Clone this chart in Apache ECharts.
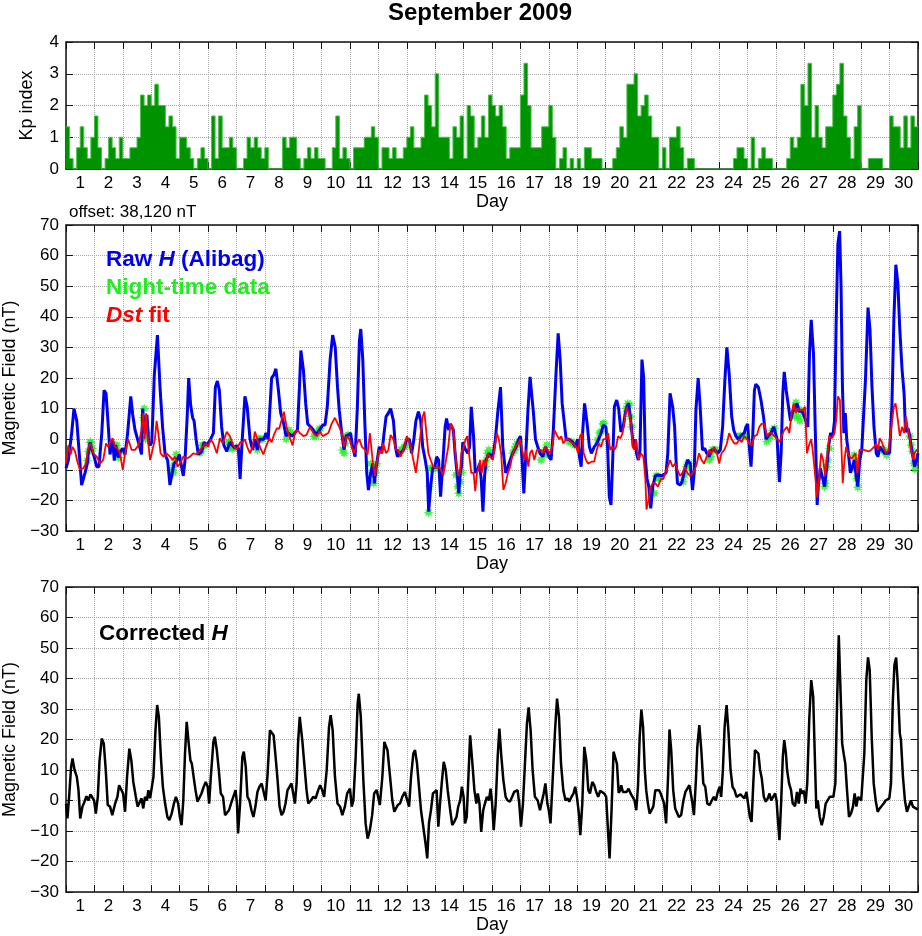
<!DOCTYPE html>
<html><head><meta charset="utf-8">
<script src="https://cdn.jsdelivr.net/npm/echarts/dist/echarts.min.js"></script>
<style>html,body{margin:0;padding:0;background:#fff}#c{width:922px;height:936px}</style>
</head><body><div id="c"></div><script>
const dayLabels = ['1','2','3','4','5','6','7','8','9','10','11','12','13','14','15','16','17','18','19','20','21','22','23','24','25','26','27','28','29','30'];

// Kp index, 8 three-hour values per day (days 1..30)
const kpIndex = [
1.33,0.33,0,0.67,1.33,0.67,0.33,1.0,
1.67,0.67,0,0.33,1.0,0.67,0.33,1.0,
0.33,0.33,0.67,0.67,1.0,2.33,2.0,2.33,
2.0,2.67,2.0,2.0,1.33,1.67,1.33,0.33,
1.0,1.0,0.67,0.33,0,0.33,0.67,0.33,
0,1.67,0.33,1.67,0.67,0.67,1.0,0.67,
0,0,0.33,1.0,0.67,1.0,0.67,0.33,
0.67,0,0,0,0,1.0,0.67,1.0,
1.0,0.33,0,0.33,0.67,0.33,0.67,0.33,
0.33,0,0,0.67,1.67,0.33,0.67,0.33,
0,0.67,0.67,0.67,1.0,1.0,1.33,1.0,
0,0.67,0.67,0.33,0.67,0.33,0.33,0.67,
1.0,1.33,0.67,0.67,1.0,2.33,2.0,1.33,
3.0,1.0,1.0,1.0,0.33,1.33,1.0,1.67,
0.33,2.0,1.67,0.67,1.0,1.67,1.0,2.33,
2.0,1.67,2.0,1.33,0.33,0.67,0.67,0.67,
2.33,3.33,2.0,0.67,0.67,0.67,1.33,1.33,
2.0,1.0,0,0.33,0.67,0,0.33,0,
0.33,0,0.67,0.67,0.33,0.33,0.33,0,
0,0,0.33,0.67,1.33,1.0,2.67,2.67,
3.0,1.67,2.0,2.33,1.67,1.0,1.0,0,
0.67,0,1.0,1.0,1.33,0.67,0,0.33,
0.33,0,0,0,0,0,0,0,
0,0,0,0,0.33,0.67,0.67,0.33,
0,1.0,0,0.33,0.67,0.33,0.33,0,
0,0,0,0.33,1.0,0.67,1.0,2.67,
2.0,3.33,1.0,2.0,1.0,0.67,1.33,1.33,
2.33,2.67,3.33,1.67,1.0,0.33,1.33,2.0,
0,0,0.33,0.33,0.33,0.33,0,0,
1.67,1.33,1.33,0.67,1.67,0.67,1.67,1.33
];

// Raw H (Alibag), [day offset, nT]
const rawH = [[0,-9.5],[0.08,-7],[0.2,2],[0.28,10],[0.38,6],[0.47,-5],[0.55,-15],[0.67,-11],[0.75,-8],[0.79,-4],[0.85,-1],[0.9,-3],[1,-6],[1.08,-9],[1.16,-9],[1.26,2],[1.34,16],[1.41,15],[1.49,4],[1.55,-5],[1.64,0],[1.7,-7],[1.75,-2],[1.84,-6],[1.92,-4],[2,-3],[2.08,-5],[2.17,2],[2.28,14],[2.35,8],[2.43,3],[2.49,1],[2.58,-2],[2.66,-5],[2.7,10],[2.76,2],[2.81,6],[2.85,8],[2.91,-1],[2.96,-2],[3.02,-1],[3.05,6],[3.11,21],[3.22,34],[3.31,17],[3.4,4],[3.49,-5],[3.58,-7],[3.66,-15],[3.73,-15],[3.8,-8],[3.9,-7],[3.99,-5],[4.07,-9],[4.13,-12],[4.19,-7],[4.27,8],[4.32,20],[4.39,11],[4.46,7],[4.51,6],[4.58,0],[4.66,-5],[4.78,-4],[4.86,-1],[4.95,-2],[5.09,0],[5.19,2],[5.26,17],[5.33,19],[5.4,16],[5.48,4],[5.56,-2],[5.66,-4],[5.77,-1],[5.86,-2],[5.95,-3],[6.01,-2],[6.07,-3],[6.13,-13],[6.19,-2.5],[6.3,14],[6.38,10.6],[6.48,0],[6.57,-3.5],[6.65,0],[6.74,-3.5],[6.81,0],[6.97,0],[7.04,2],[7.12,0],[7.24,20],[7.32,21],[7.39,23],[7.48,16],[7.56,8.5],[7.65,5.7],[7.75,1],[7.83,2],[7.95,1],[8.06,2],[8.15,3],[8.22,17],[8.27,29],[8.36,22.6],[8.44,11.7],[8.51,5],[8.62,4],[8.71,3],[8.8,1.4],[8.92,3],[9.04,4.6],[9.12,4.6],[9.2,10.6],[9.3,26],[9.39,34],[9.48,30],[9.56,17],[9.62,9.5],[9.71,2],[9.79,-3.5],[9.86,1],[9.94,1.4],[10.02,2],[10.09,-2.5],[10.18,-5.7],[10.26,10.6],[10.33,32],[10.38,36],[10.45,26],[10.52,6],[10.59,-11],[10.65,-16.6],[10.73,-11],[10.8,-8],[10.86,-14.4],[10.94,-8],[11.03,-2.5],[11.12,-4.6],[11.2,2],[11.27,7.4],[11.35,8.5],[11.43,10],[11.53,6],[11.6,-2.5],[11.67,-5.7],[11.77,-4.6],[11.88,-3.5],[12,0],[12.09,0],[12.17,-4.6],[12.25,0],[12.32,6],[12.41,9],[12.49,6],[12.56,-2.5],[12.65,-6.8],[12.72,-11],[12.77,-23.7],[12.84,-15.5],[12.91,-9.5],[12.99,-9],[13.05,-5.7],[13.12,-6.8],[13.19,-18.8],[13.26,-9],[13.35,4],[13.4,6.8],[13.47,3],[13.54,5],[13.64,3],[13.7,-4.6],[13.78,-12],[13.83,-17.7],[13.88,-11],[13.93,-9],[13.97,-1],[14.07,-3.5],[14.15,-4.6],[14.21,-2.5],[14.27,10.6],[14.3,11],[14.35,1],[14.41,-11],[14.5,-10],[14.56,-8],[14.62,-13],[14.68,-23.7],[14.74,-12],[14.79,-6.8],[14.89,-4.6],[14.97,-6],[15.05,-4.6],[15.12,0],[15.2,8.5],[15.3,17],[15.38,-2.5],[15.48,-11],[15.56,-9],[15.64,-6.8],[15.73,-4.6],[15.85,-2.5],[15.94,0],[16,1],[16.06,-6.8],[16.12,-17.7],[16.18,-6.8],[16.26,8.5],[16.34,20.4],[16.38,21],[16.46,8.5],[16.53,0],[16.61,-2.5],[16.69,-4.6],[16.79,-5.7],[16.88,-2.5],[16.93,-3.5],[17,-5.7],[17.08,-6.8],[17.16,3],[17.26,22.6],[17.33,34.6],[17.4,26],[17.47,11.7],[17.55,5],[17.61,0],[17.7,0],[17.84,-1],[17.94,-2.5],[18.02,0],[18.08,-5.7],[18.14,-9],[18.19,2],[18.26,11.7],[18.35,5],[18.43,-2.5],[18.5,-4.6],[18.6,-2.5],[18.69,-1.4],[18.75,-1],[18.84,2],[18.92,4.6],[19.01,4],[19.07,-2.5],[19.13,-18.8],[19.19,-21.5],[19.25,-6.8],[19.31,10.6],[19.39,12.8],[19.46,10],[19.54,2.4],[19.62,4],[19.69,8.5],[19.75,10.6],[19.81,11.7],[19.87,7.4],[19.93,2],[19.98,-2.5],[20.05,0],[20.09,-4.6],[20.15,-6.8],[20.21,-3.5],[20.28,26],[20.34,20],[20.4,-6.8],[20.46,-13],[20.52,-15.5],[20.59,-22.6],[20.66,-15.5],[20.75,-12],[20.84,-11.7],[20.95,-12],[21.03,-11.7],[21.13,-11],[21.19,-4.6],[21.27,15],[21.36,10.6],[21.43,4],[21.48,-6.8],[21.53,-14.4],[21.62,-15],[21.69,-14],[21.76,-11],[21.88,-6.8],[21.98,-8],[22.06,-16.6],[22.12,-11],[22.18,9.5],[22.26,20],[22.33,10.6],[22.41,-3.5],[22.49,-3],[22.56,-4.6],[22.65,-5.7],[22.73,-3.5],[22.85,-3.5],[22.94,-4.6],[23.04,-3.5],[23.12,4],[23.2,19.3],[23.27,30],[23.35,21.5],[23.44,7.4],[23.51,3],[23.59,1],[23.67,0],[23.79,1.4],[23.88,2],[23.94,4],[24,5],[24.06,-2.5],[24.12,-9],[24.18,1],[24.24,16],[24.29,18],[24.38,17],[24.47,12.8],[24.56,7.4],[24.65,0],[24.73,1],[24.82,2],[24.92,4],[24.96,4.6],[25.04,0],[25.12,-14],[25.18,-4.6],[25.24,15],[25.29,22],[25.36,16],[25.44,10.6],[25.51,6],[25.59,9],[25.67,10],[25.74,11.7],[25.82,9],[25.91,9.5],[25.98,10],[26.06,5.7],[26.12,4],[26.18,28],[26.24,39],[26.32,28],[26.38,4],[26.45,-21.5],[26.49,-15.5],[26.56,-9.5],[26.65,-13],[26.71,-15.5],[26.79,-9],[26.85,-2.5],[26.92,2],[27,1],[27.06,6],[27.12,39],[27.18,64],[27.24,68],[27.29,50],[27.34,17],[27.39,2],[27.44,8.5],[27.49,0],[27.55,-4.6],[27.62,-11],[27.69,-9],[27.76,-6.8],[27.82,-12],[27.88,-15.5],[27.95,-6.8],[28.02,-3.5],[28.09,-3.5],[28.15,19.3],[28.24,43],[28.31,35.7],[28.38,17],[28.45,4],[28.53,-4.6],[28.59,-5.7],[28.65,-2.5],[28.73,-3.5],[28.82,-4.6],[28.92,-4.6],[29,-4.6],[29.08,10.6],[29.15,39],[29.22,57],[29.29,51],[29.36,35.7],[29.44,22.6],[29.51,15],[29.56,2.4],[29.65,3.5],[29.71,1],[29.76,-2.5],[29.82,-5.7],[29.88,-9],[29.95,-6.8],[30,-4.6]];

// Night-time data points, [day offset, nT]
const nightTime = [[0.75,-7],[0.79,-4],[0.85,-1],[0.87,-1],[0.93,-3],[1.73,-2],[1.79,-2],[1.82,-4.6],[1.86,-6],[1.9,-4],[2.72,7],[2.75,10],[2.78,4],[2.8,0],[2.85,2],[3.76,-10],[3.78,-11],[3.8,-8.5],[3.84,-7],[3.88,-5],[4.72,-4.5],[4.76,-4],[4.8,-2],[4.84,-2],[4.88,-2],[5.72,-1],[5.76,-1],[5.8,-2],[5.84,-3],[5.88,-3],[6.74,-3.5],[6.78,0],[6.82,0],[6.86,0],[6.9,0],[7.75,0],[7.79,2],[7.85,3],[7.89,2],[8.73,1],[8.8,1],[8.86,2],[8.91,3],[8.94,3.5],[9.74,-3.5],[9.79,-4.6],[9.84,-1.4],[9.88,1],[9.93,1.4],[10.73,-8],[10.8,-11],[10.84,-14.4],[10.89,-11],[10.94,-8],[11.74,-4.6],[11.8,-3.5],[11.85,-3.3],[11.91,-2.6],[11.96,-2],[12.77,-24],[12.8,-15.5],[12.85,-9.5],[12.92,-9.5],[12.99,-9.5],[13.73,-11.7],[13.79,-15.5],[13.83,-17.7],[13.88,-13.9],[13.93,-11],[14.77,-9],[14.8,-6.8],[14.84,-4.6],[14.89,-3.5],[14.94,-4.6],[15.73,-4.6],[15.79,-3.5],[15.83,-2.5],[15.88,-1.4],[15.95,-0.8],[16.73,-6.8],[16.79,-4.6],[16.84,-5.2],[16.88,-3.5],[16.93,-1.9],[17.71,-0.8],[17.79,-0.8],[17.85,-1.4],[17.91,-1.9],[17.96,-1.4],[18.72,-0.3],[18.78,2],[18.84,2.5],[18.9,5],[18.94,5.2],[19.72,10],[19.78,11.7],[19.84,11.2],[19.87,7.4],[19.92,4],[20.72,-17.7],[20.78,-12],[20.84,-12],[20.87,-12.8],[20.91,-12.8],[21.73,-13.9],[21.78,-11.7],[21.85,-9],[21.89,-8.4],[21.95,-7.9],[22.65,-6.8],[22.71,-5.7],[22.76,-3.5],[22.82,-3.5],[22.88,-3.5],[23.67,1],[23.74,1],[23.8,1],[23.86,1],[23.92,1],[24.68,-0.8],[24.73,0.3],[24.8,1],[24.87,2.8],[24.94,3.5],[25.65,7.4],[25.7,12],[25.74,10],[25.79,7.4],[25.84,6],[25.88,9.5],[26.71,-15.5],[26.74,-14.4],[26.79,-9],[26.82,-6.8],[26.88,-3],[27.71,-9.5],[27.75,-5.2],[27.8,-6.8],[27.84,-12.8],[27.88,-15.7],[28.71,-3.5],[28.75,-3],[28.8,-3.5],[28.85,-4],[28.89,-5.2],[29.71,1],[29.76,-1.9],[29.79,-3.9],[29.85,-7.9],[29.89,-9.8]];

// Dst fit, [day offset, nT]
const dstFit = [[0,-8],[0.08,-2],[0.16,-5],[0.23,-2.5],[0.32,-4],[0.4,-7.3],[0.49,-10],[0.61,-9.5],[0.7,-8],[0.79,-2.5],[0.87,-1.4],[0.96,-4.6],[1.08,-5.7],[1.2,-8],[1.31,-6.8],[1.41,-1.4],[1.49,-2.5],[1.55,-1],[1.64,0.3],[1.73,-2.5],[1.81,-3],[1.9,-4.6],[2,-10],[2.08,-4.6],[2.19,0],[2.31,-3.5],[2.43,-3.5],[2.55,-2],[2.66,3],[2.72,8.5],[2.77,0],[2.82,8.5],[2.86,2],[2.96,-6.8],[3.02,-4.6],[3.13,0],[3.19,6],[3.25,2],[3.33,-4.6],[3.43,-5.7],[3.54,-4.6],[3.66,-5.7],[3.76,-6.8],[3.84,-5.7],[3.93,-9],[4.01,-8],[4.13,-5.7],[4.25,-6.3],[4.37,-5.7],[4.48,-4.6],[4.6,-5],[4.72,-3.5],[4.81,-2.5],[4.93,-1.4],[5.01,-2.5],[5.09,0],[5.19,-1.4],[5.31,-4.6],[5.42,0.3],[5.52,-1.4],[5.66,2.4],[5.77,1],[5.89,-2],[6.01,-3.5],[6.13,-1],[6.22,-1],[6.3,0],[6.38,-2.5],[6.48,-4.6],[6.57,-2.5],[6.65,2.5],[6.74,0],[6.83,-2.5],[6.95,-5],[7.04,-2.5],[7.16,0.3],[7.24,-1],[7.32,1.4],[7.42,3.5],[7.51,3.5],[7.59,6.3],[7.67,9],[7.77,4],[7.86,1],[7.98,-2],[8.06,2],[8.15,3],[8.24,2],[8.36,1],[8.47,1.4],[8.59,4],[8.71,2],[8.83,1],[8.94,2.5],[9.04,1],[9.12,1.4],[9.24,2],[9.35,5],[9.47,7],[9.53,7],[9.62,4],[9.71,2],[9.79,-2.5],[9.88,1],[9.98,0],[10.06,-2.5],[10.14,-4.6],[10.24,-1.4],[10.33,0],[10.42,-2.5],[10.53,-3.5],[10.62,-5],[10.7,2],[10.76,2.5],[10.82,-9],[10.88,-12],[10.94,-8],[11.03,-3.5],[11.12,-4.6],[11.17,-1.4],[11.27,-4.6],[11.35,-3.5],[11.43,1.4],[11.53,0],[11.62,-3.5],[11.7,-3.5],[11.78,-5.7],[11.88,-3.5],[12,1],[12.05,0],[12.14,-2.5],[12.23,-6.8],[12.32,-11],[12.41,-4.6],[12.49,2],[12.56,7.4],[12.62,9],[12.7,1],[12.76,-4.6],[12.84,-6.8],[12.93,-9],[13.03,-9.5],[13.11,-9],[13.2,-10],[13.28,-12],[13.38,-6.8],[13.46,-2.5],[13.54,5],[13.64,3.5],[13.73,-6.8],[13.81,-12],[13.87,-11],[13.92,-4.6],[14,-2.5],[14.07,0],[14.13,1],[14.19,-4.6],[14.27,-11],[14.35,-11],[14.41,-17],[14.47,-11],[14.54,-9],[14.58,-6.8],[14.64,-11],[14.7,-6.8],[14.77,-9],[14.85,-4.6],[14.93,-5.7],[15.03,-6.8],[15.1,-2.5],[15.17,2],[15.24,0],[15.32,-4.6],[15.4,-16.6],[15.48,-14.4],[15.56,-11],[15.64,-9],[15.73,-4.6],[15.83,-2.5],[15.91,-1.4],[15.99,0],[16.06,-3.5],[16.14,-6.8],[16.2,-3.5],[16.28,-9],[16.34,-4.6],[16.41,-3.5],[16.49,-6.8],[16.58,-3.5],[16.73,-3.5],[16.81,-4.6],[16.88,-2.5],[16.96,-3.5],[17.04,-4.6],[17.12,-2.5],[17.2,3],[17.28,1.4],[17.37,0],[17.44,1],[17.51,-1.4],[17.61,0],[17.7,0],[17.78,-1],[17.86,-1.4],[17.96,-2.5],[18.03,-4.6],[18.1,1],[18.17,2],[18.23,-4.6],[18.31,-6.8],[18.38,-8],[18.45,-8],[18.52,-7.3],[18.6,-7.3],[18.69,-3.5],[18.76,-1.4],[18.84,-2.5],[18.92,0],[19.01,0],[19.09,2],[19.16,-3.5],[19.23,-2.5],[19.31,-3.5],[19.37,-2.5],[19.44,1],[19.52,0.3],[19.6,2],[19.67,6.3],[19.74,10.6],[19.81,8.5],[19.89,6.3],[19.95,-2.5],[20.01,-3.5],[20.07,0],[20.16,-6.8],[20.24,-4.6],[20.33,-5.7],[20.4,-13],[20.44,-23],[20.51,-20],[20.59,-15.5],[20.66,-14.4],[20.75,-14.4],[20.84,-15.5],[20.95,-13],[21.03,-13],[21.1,-11],[21.19,-9],[21.27,-6.8],[21.36,-9],[21.45,-8],[21.53,-10],[21.62,-12],[21.71,-11],[21.79,-9],[21.88,-11],[21.98,-12],[22.06,-11],[22.14,-10],[22.21,-8],[22.29,-4.6],[22.38,-6.8],[22.47,-8],[22.56,-5.7],[22.65,-3.5],[22.73,-4.6],[22.82,-2.5],[22.92,-4.6],[23,-8],[23.08,-4.6],[23.18,-3.5],[23.27,-1.4],[23.35,2],[23.44,0],[23.53,-1.4],[23.62,-1.4],[23.71,0],[23.79,-1],[23.88,1],[23.98,0],[24.06,-1.4],[24.14,-2],[24.24,1],[24.33,1.4],[24.41,4],[24.49,5],[24.59,5],[24.68,1],[24.76,2],[24.85,2],[24.94,1],[25.04,0],[25.12,-1],[25.2,1],[25.29,3],[25.39,4],[25.47,2],[25.55,8.5],[25.62,11.7],[25.71,8.5],[25.76,10],[25.86,9.5],[25.94,9.5],[26.02,10.6],[26.09,-4.6],[26.18,-1.4],[26.24,0],[26.29,-3.5],[26.35,-9],[26.45,-19],[26.53,-11],[26.59,-4.6],[26.66,-6.8],[26.73,-12],[26.8,-5.7],[26.88,1],[26.96,0.3],[27.06,2],[27.12,6.3],[27.18,14],[27.25,12.8],[27.29,1],[27.35,-14.4],[27.41,-6.8],[27.47,-2.5],[27.53,-4.6],[27.59,-5.7],[27.67,-6.3],[27.74,-6.8],[27.8,-4.6],[27.86,-11],[27.94,-3.5],[28.09,-3.5],[28.26,-4],[28.35,-3.5],[28.45,-2.5],[28.53,-1.4],[28.59,-3.5],[28.65,0.3],[28.73,-1],[28.8,-3],[28.88,-4.6],[28.96,-3.5],[29.06,4],[29.15,10.6],[29.21,11.7],[29.29,6.3],[29.36,1],[29.44,4],[29.51,2],[29.58,7.4],[29.65,3],[29.72,0],[29.76,-3.5],[29.84,-6.8],[29.88,-4.6],[29.95,-3.5],[30,-3.5]];

// Corrected H, [day offset, nT]
const correctedH = [[0,-1],[0.05,-5.9],[0.11,1.2],[0.18,11],[0.23,13.8],[0.3,10],[0.38,7.8],[0.44,3.4],[0.5,-5.9],[0.58,-2],[0.65,-0.4],[0.72,1.4],[0.79,0],[0.86,2],[0.93,2.5],[0.99,0],[1.05,-4.3],[1.12,1.2],[1.18,13],[1.26,20.3],[1.33,18.7],[1.4,10],[1.47,-1.5],[1.55,-2],[1.63,-4.8],[1.73,-1],[1.81,1.2],[1.87,5],[1.94,4.5],[2.01,2.3],[2.08,-3.7],[2.15,7.8],[2.23,17],[2.3,13.2],[2.37,6.1],[2.43,2.8],[2.52,-2],[2.59,-2.6],[2.66,0.7],[2.72,-2.6],[2.78,1.2],[2.85,0],[2.9,3.4],[2.96,0.7],[3.02,1.2],[3.08,7.8],[3.15,23],[3.21,31.3],[3.27,27.4],[3.34,14.3],[3.41,4.5],[3.49,-1],[3.57,-5.4],[3.64,-6.4],[3.72,-4.3],[3.8,-1],[3.87,1.2],[3.95,-1],[4.01,-5.4],[4.07,-8.1],[4.13,0],[4.19,15.4],[4.25,25.8],[4.32,18.7],[4.38,13.2],[4.43,12.1],[4.51,6.7],[4.56,3.4],[4.63,-0.4],[4.7,-1],[4.77,2.3],[4.85,4.5],[4.92,6.1],[4.99,4.5],[5.04,-1],[5.1,7.8],[5.19,19.2],[5.24,20.9],[5.31,16.5],[5.38,10],[5.45,2.3],[5.53,1.2],[5.6,-4.8],[5.67,-5.4],[5.74,-3.2],[5.81,-1],[5.89,1.2],[5.97,3.4],[6.02,-1],[6.06,-10.8],[6.13,-1],[6.21,14.3],[6.26,16],[6.33,11],[6.39,1.2],[6.46,0],[6.53,-3.2],[6.6,-5.4],[6.67,-2],[6.74,2.8],[6.81,4.5],[6.89,5.6],[6.96,6.1],[7.03,0],[7.1,8.9],[7.18,23],[7.24,22.5],[7.31,21.4],[7.38,14.3],[7.45,6.7],[7.52,-2],[7.59,-4.8],[7.66,-3.7],[7.73,-1],[7.8,3.4],[7.87,4.5],[7.94,5.6],[8,5.6],[8.06,-1],[8.12,5.6],[8.17,18.7],[8.23,27.4],[8.32,19.8],[8.39,12.1],[8.47,3.4],[8.53,-1],[8.62,0],[8.71,1.2],[8.79,0.7],[8.88,3.4],[8.95,5],[9.02,3.4],[9.09,1.2],[9.18,10],[9.26,24],[9.32,28],[9.39,23],[9.47,7.8],[9.56,-1],[9.65,-2],[9.73,-4.8],[9.82,-2],[9.9,2.3],[10,3.9],[10.06,-2],[10.12,0],[10.2,14.3],[10.27,31.8],[10.31,35],[10.38,27.4],[10.47,6.7],[10.55,-7.5],[10.62,-12.5],[10.7,-9.7],[10.78,-4.8],[10.85,2.3],[10.94,3.4],[11,2.8],[11.05,-1.5],[11.14,7.8],[11.21,19.2],[11.25,19.8],[11.32,16.5],[11.41,7.8],[11.49,0],[11.56,-3.7],[11.62,-4.3],[11.68,-1.5],[11.76,-1],[11.84,1.2],[11.93,2.8],[12,2.3],[12.08,-2],[12.15,7.8],[12.23,15.4],[12.29,16.5],[12.36,12.1],[12.43,4.5],[12.5,-3.2],[12.58,-8.6],[12.66,-14.1],[12.72,-19],[12.78,-7.5],[12.85,-3.2],[12.92,2.3],[12.99,2.3],[13.05,3.4],[13.11,-8.6],[13.17,-1],[13.23,5.6],[13.3,12.7],[13.37,10],[13.44,3.4],[13.52,-2.6],[13.6,-8.1],[13.67,-7],[13.75,-5.4],[13.81,-2],[13.88,0],[13.94,4.5],[14,1.2],[14.05,-7.5],[14.11,-5.4],[14.16,5.6],[14.23,21.4],[14.31,12.1],[14.38,3.4],[14.45,-1],[14.5,2.3],[14.56,-1],[14.62,-10.3],[14.69,-3.2],[14.75,-1],[14.82,1.2],[14.89,0],[14.95,3.9],[15,-0.4],[15.06,-9.7],[15.13,-1],[15.2,14.3],[15.26,23.6],[15.33,14.3],[15.4,6.7],[15.48,1.2],[15.55,0],[15.63,-0.4],[15.71,1.2],[15.78,2.8],[15.84,2.5],[15.9,3.4],[15.96,-1],[16.02,-8.6],[16.09,-1],[16.16,12.1],[16.23,25.2],[16.29,30.5],[16.36,23],[16.43,10],[16.51,1.2],[16.61,0],[16.69,-3.2],[16.75,-2.6],[16.82,2.3],[16.88,5.6],[16.95,-1],[17,-3.2],[17.06,-7.5],[17.13,5.6],[17.22,23],[17.29,33.4],[17.36,27.4],[17.43,12.1],[17.51,3.4],[17.59,0],[17.66,0.7],[17.72,-0.4],[17.8,1.2],[17.87,2.3],[17.93,4.5],[17.99,1.2],[18.06,-4.3],[18.11,-11.4],[18.18,-1],[18.25,17.6],[18.32,13.2],[18.39,3.4],[18.45,2.3],[18.53,6.1],[18.6,5],[18.67,2.8],[18.74,1.2],[18.81,3.2],[18.88,3.4],[18.95,2.3],[19.02,1.2],[19.07,-7.5],[19.14,-19],[19.21,-3.2],[19.28,16],[19.33,16.5],[19.4,12],[19.46,2.5],[19.52,3.4],[19.55,5],[19.61,2.8],[19.67,2.3],[19.74,2.8],[19.81,3.9],[19.88,2.3],[19.95,1.2],[20.02,0],[20.08,-3.2],[20.14,4.5],[20.2,20.9],[20.26,29.8],[20.32,24],[20.38,10],[20.43,3.4],[20.49,-1],[20.55,-4.3],[20.61,-3.7],[20.68,-2],[20.75,3.4],[20.82,2.8],[20.88,3.4],[20.94,2.3],[21,2.8],[21.06,-1],[21.13,-7.5],[21.2,7.8],[21.25,23.3],[21.31,16.5],[21.38,3.4],[21.45,-2.6],[21.52,-3.2],[21.58,-5.4],[21.66,-4.8],[21.74,0],[21.81,2.8],[21.88,3.4],[21.95,5],[22,4.5],[22.06,-1],[22.11,-4.8],[22.18,6.7],[22.23,17.6],[22.3,24.7],[22.37,16.5],[22.44,5.6],[22.51,4.5],[22.58,-1],[22.66,-1.5],[22.74,0],[22.81,1.2],[22.88,0],[22.95,2.8],[23.02,4.5],[23.07,1.2],[23.13,10],[23.19,24],[23.26,31.3],[23.33,22],[23.4,10],[23.47,4.5],[23.54,3.4],[23.61,1.2],[23.68,1.2],[23.75,2],[23.82,1.7],[23.89,0.7],[23.96,2.8],[24.03,3.4],[24.08,-5.4],[24.14,-7],[24.2,5.6],[24.26,16.5],[24.33,16],[24.38,15.4],[24.44,10],[24.5,7.2],[24.57,1.2],[24.64,-0.4],[24.71,0.7],[24.77,2.3],[24.83,0],[24.9,1.2],[24.97,2.3],[25.02,0],[25.06,-5.4],[25.12,-13],[25.18,-1],[25.24,14.3],[25.29,19.8],[25.35,15.4],[25.39,10],[25.46,5.6],[25.53,3.4],[25.59,-1],[25.67,-1.9],[25.74,2.8],[25.8,-1],[25.86,3.9],[25.92,2.3],[25.98,3.2],[26.04,-1],[26.1,5.6],[26.17,26.3],[26.24,39.5],[26.31,34],[26.38,10],[26.42,-2.6],[26.47,0],[26.54,-5.4],[26.61,-8.1],[26.68,-5.4],[26.75,-1],[26.82,-1],[26.89,1.2],[26.96,0.7],[27.02,1.2],[27.09,5.6],[27.15,31.8],[27.21,54.2],[27.27,53.7],[27.33,18.7],[27.39,14.9],[27.44,12.1],[27.5,3.4],[27.57,-5.4],[27.64,-4.3],[27.71,-2],[27.77,2.3],[27.83,-2],[27.89,1.2],[27.95,1.2],[28,0],[28.05,0],[28.11,15.4],[28.18,39.5],[28.24,46.9],[28.3,42.7],[28.37,20.9],[28.44,5.6],[28.51,0],[28.58,-3.7],[28.65,-2.6],[28.72,-2],[28.79,-1],[28.86,0],[28.93,0],[28.99,0.7],[29.05,5.6],[29.11,31.8],[29.17,44.4],[29.23,46.9],[29.28,39.5],[29.36,22],[29.4,19.8],[29.47,7.8],[29.54,0],[29.61,-3.7],[29.68,-3.2],[29.75,0],[29.82,-2],[29.89,-2.3],[30,-3]];

const FONT = '"Liberation Sans", Arial, Helvetica, sans-serif';
const GRIDC = '#a8a8a8';
const AXC = '#111';
const NIGHT_GREEN = '#1cf01c';

const kpSeries = kpIndex.map((v, i) => [i / 8, v]);
kpSeries.push([30, kpIndex[kpIndex.length - 1]]);

function starPath() {
  const pts = [];
  for (let k = 0; k < 16; k++) {
    const r = k % 2 === 0 ? 50 : 26;
    const a = k * Math.PI / 8;
    pts.push((50 + r * Math.sin(a)).toFixed(1) + ' ' + (50 - r * Math.cos(a)).toFixed(1));
  }
  return 'path://M' + pts.join(' L') + ' Z';
}

const fmtY = v => (v < 0 ? '\u2212' + Math.abs(v) : String(v));

function xAxes(g, gap) {
  const common = {
    type: 'value', gridIndex: g, min: 0, max: 30, interval: 1,
    axisLine: { show: true, onZero: false, lineStyle: { color: AXC, width: 1.5 } },
    axisTick: { show: true, inside: true, length: 7, lineStyle: { color: AXC, width: 1 } },
    axisLabel: { show: false }
  };
  return [
    Object.assign({}, common, { position: 'bottom', splitLine: { show: true, lineStyle: { color: GRIDC, type: 'dotted', width: 1 } } }),
    Object.assign({}, common, { position: 'top', splitLine: { show: false } }),
    {
      type: 'category', gridIndex: g, position: 'bottom', data: dayLabels, boundaryGap: true,
      axisLine: { show: false, onZero: false }, axisTick: { show: false }, splitLine: { show: false },
      axisLabel: { interval: 0, fontSize: 17, margin: 6, color: '#000', fontFamily: FONT },
      name: 'Day', nameLocation: 'middle', nameGap: gap,
      nameTextStyle: { fontSize: 18, color: '#000', fontFamily: FONT }
    }
  ];
}

function yAxes(g, min, max, interval, name, gap) {
  const common = {
    type: 'value', gridIndex: g, min: min, max: max, interval: interval,
    axisLine: { show: true, onZero: false, lineStyle: { color: AXC, width: 1.5 } },
    axisTick: { show: true, inside: true, length: 7, lineStyle: { color: AXC, width: 1 } }
  };
  return [
    Object.assign({}, common, {
      position: 'left',
      axisLabel: { fontSize: 17, margin: 7, color: '#000', fontFamily: FONT, formatter: fmtY },
      splitLine: { show: true, lineStyle: { color: GRIDC, type: 'dotted', width: 1 } },
      name: name, nameLocation: 'middle', nameGap: gap,
      nameTextStyle: { fontSize: 18, color: '#000', fontFamily: FONT }
    }),
    Object.assign({}, common, { position: 'right', axisLabel: { show: false }, splitLine: { show: false } })
  ];
}

const chart = echarts.init(document.getElementById('c'), null, { renderer: 'canvas' });

const legendStyle = (color) => ({
  n: { fontSize: 22.5, fontWeight: 'bold', fontFamily: FONT, fill: color, color: color },
  i: { fontSize: 22.5, fontWeight: 'bold', fontStyle: 'italic', fontFamily: FONT, fill: color, color: color }
});

const gridBase = { containLabel: false, outerBoundsMode: 'none' };

chart.setOption({
  animation: false,
  backgroundColor: '#fff',
  textStyle: { fontFamily: FONT },
  grid: [
    Object.assign({ left: 66, top: 42, width: 852, height: 127 }, gridBase),
    Object.assign({ left: 66, top: 225, width: 852, height: 306 }, gridBase),
    Object.assign({ left: 66, top: 587, width: 852, height: 305 }, gridBase)
  ],
  xAxis: [].concat(xAxes(0, 24), xAxes(1, 24), xAxes(2, 24)),
  yAxis: [].concat(
    yAxes(0, 0, 4, 1, 'Kp index', 30),
    yAxes(1, -30, 70, 10, 'Magnetic Field (nT)', 36),
    yAxes(2, -30, 70, 10, 'Magnetic Field (nT)', 36)
  ),
  graphic: [
    { type: 'text', x: 480, y: 13, z: 100, style: { text: 'September 2009', fontSize: 24, fontWeight: 'bold', fontFamily: FONT, fill: '#000', align: 'center', verticalAlign: 'middle' } },
    { type: 'text', x: 69, y: 212, z: 100, style: { text: 'offset: 38,120 nT', fontSize: 17, fontFamily: FONT, fill: '#000', align: 'left', verticalAlign: 'middle' } },
    { type: 'text', x: 106, y: 260, z: 100, style: { text: '{n|Raw }{i|H}{n| (Alibag)}', align: 'left', verticalAlign: 'middle', rich: legendStyle('#0000f0') } },
    { type: 'text', x: 106, y: 288, z: 100, style: { text: '{n|Night-time data}', align: 'left', verticalAlign: 'middle', rich: legendStyle(NIGHT_GREEN) } },
    { type: 'text', x: 106, y: 316, z: 100, style: { text: '{i|Dst}{n| fit}', align: 'left', verticalAlign: 'middle', rich: legendStyle('#ff0000') } },
    { type: 'text', x: 99, y: 634, z: 100, style: { text: '{n|Corrected }{i|H}', align: 'left', verticalAlign: 'middle', rich: legendStyle('#000000') } }
  ],
  series: [
    {
      name: 'Kp', type: 'line', xAxisIndex: 0, yAxisIndex: 0, step: 'end', symbol: 'none',
      data: kpSeries, lineStyle: { color: '#4cc04c', width: 1 },
      areaStyle: { color: '#009300', opacity: 1 }
    },
    {
      name: 'Raw H', type: 'line', xAxisIndex: 3, yAxisIndex: 2, symbol: 'none', data: rawH,
      lineStyle: { color: '#0000f0', width: 3 }
    },
    {
      name: 'Dst fit', type: 'line', xAxisIndex: 3, yAxisIndex: 2, symbol: 'none', data: dstFit,
      lineStyle: { color: '#ff0000', width: 1.8 }
    },
    {
      name: 'Night-time', type: 'scatter', xAxisIndex: 3, yAxisIndex: 2, data: nightTime,
      symbol: starPath(), symbolSize: 10, itemStyle: { color: NIGHT_GREEN }
    },
    {
      name: 'Corrected H', type: 'line', xAxisIndex: 6, yAxisIndex: 4, symbol: 'none', data: correctedH,
      lineStyle: { color: '#000', width: 2.5 }
    }
  ]
});
</script></body></html>
